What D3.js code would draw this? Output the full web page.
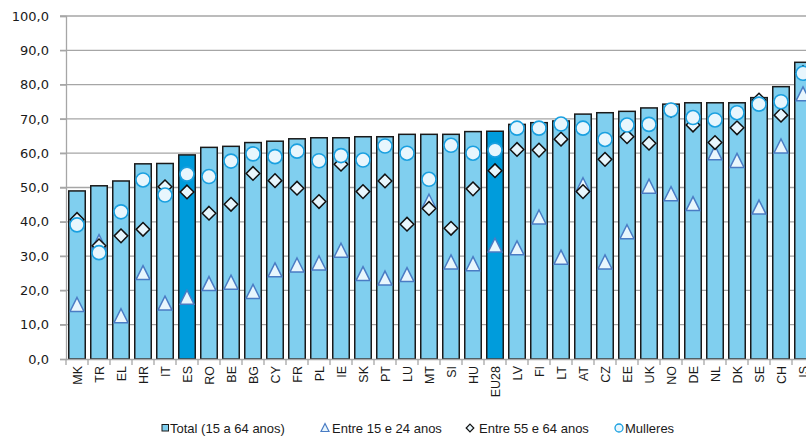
<!DOCTYPE html>
<html>
<head>
<meta charset="utf-8">
<script src="https://cdn.jsdelivr.net/npm/d3@7"></script>
<style>
  body { margin: 0; background: #fff; }
  svg { display: block; }
</style>
</head>
<body>
<div id="root"></div>
<script>
const width = 806;
const height = 437;

// Data set

const categories = ['MK', 'TR', 'EL', 'HR', 'IT', 'ES', 'RO', 'BE', 'BG', 'CY', 'FR', 'PL', 'IE', 'SK', 'PT', 'LU', 'MT',
  'SI', 'HU', 'EU28', 'LV', 'FI', 'LT', 'AT', 'CZ', 'EE', 'UK', 'NO', 'DE', 'NL', 'DK', 'SE', 'CH', 'IS'];

const total = [49.0, 50.5, 51.9, 56.9, 57.0, 59.5, 61.7, 62.0, 63.1, 63.5, 64.2, 64.5, 64.5, 64.8, 64.8, 65.5, 65.5,
  65.5, 66.3, 66.4, 68.4, 68.9, 69.4, 71.4, 71.8, 72.2, 73.2, 74.3, 74.7, 74.7, 74.7, 76.2, 79.4, 86.5];

const age15to24 = [15.9, 34.2, 12.6, 25.2, 16.3, 18.0, 22.0, 22.4, 19.7, 26.0, 27.4, 28.0, 31.7, 24.9, 23.6, 24.6, 46.0,
  28.3, 27.8, 33.2, 32.4, 41.4, 29.7, 50.8, 28.3, 37.1, 50.4, 48.2, 45.3, 60.1, 57.9, 44.3, 62.1, 77.3];

const age55to64 = [40.7, 33.0, 35.9, 37.8, 50.2, 48.7, 42.5, 45.1, 54.1, 52.0, 49.8, 45.9, 56.8, 48.8, 51.9, 39.3, 43.9,
  38.1, 49.6, 54.9, 61.1, 60.9, 64.1, 48.8, 58.2, 64.8, 62.9, 72.5, 68.2, 63.1, 67.4, 75.5, 71.1, 83.5];

const women = [39.1, 31.0, 42.9, 52.2, 47.8, 53.9, 53.2, 57.7, 59.8, 59.0, 60.6, 57.8, 59.3, 58.0, 62.1, 60.0, 52.4,
  62.3, 60.0, 60.9, 67.3, 67.3, 68.5, 67.3, 64.0, 68.2, 68.4, 72.6, 70.4, 69.7, 71.8, 74.3, 75.0, 83.3];

const highlighted = ['ES', 'EU28'];
const yTicks = [0, 10, 20, 30, 40, 50, 60, 70, 80, 90, 100];

const legendLabels = ['Total (15 a 64 anos)', 'Entre 15 e 24 anos', 'Entre 55 e 64 anos', 'Mulleres'];

// Colors

const barLight = '#80cfef';
const barDark = '#009cdc';
const markerFill = '#e8f6fd';
const gridColor = '#a6a6a6';

// Main canvas

const svg = d3
  .select('#root')
  .append('svg')
  .attr('width', width)
  .attr('height', height);

const x = d3.scaleBand().domain(categories).range([66, 814]).paddingInner(0.25).paddingOuter(0.125);
const y = d3.scaleLinear().domain([0, 100]).range([359, 16]);

// Grid and y axis

svg
  .append('g')
  .selectAll('line')
  .data(yTicks.slice(1))
  .join('line')
  .attr('x1', 60)
  .attr('x2', width)
  .attr('y1', (d) => y(d))
  .attr('y2', (d) => y(d))
  .attr('stroke', gridColor)
  .attr('stroke-width', 1.3);

const yAxis = svg
  .append('g')
  .attr('transform', 'translate(66,0)')
  .call(d3.axisLeft(y).tickValues(yTicks).tickSize(6).tickPadding(11).tickFormat((d) => d3.format('.1f')(d).replace('.', ',')));

yAxis.selectAll('line, path').attr('stroke', gridColor).attr('stroke-width', 1.3);
yAxis.selectAll('text').attr('font-family', 'DejaVu Sans').attr('font-size', 13).attr('fill', '#1a1a1a');

// Bars

svg
  .append('g')
  .selectAll('rect')
  .data(categories)
  .join('rect')
  .attr('x', (d) => x(d))
  .attr('y', (d, i) => y(total[i]))
  .attr('width', x.bandwidth())
  .attr('height', (d, i) => y(0) - y(total[i]))
  .attr('fill', (d) => (highlighted.includes(d) ? barDark : barLight))
  .attr('stroke', '#1a1a1a')
  .attr('stroke-width', 1.5);

// X axis

const xAxis = svg
  .append('g')
  .attr('transform', `translate(0,${y(0)})`)
  .call(d3.axisBottom(x).tickSize(0).tickFormat(''));

xAxis.select('path').attr('stroke', gridColor).attr('stroke-width', 1.3);

svg
  .append('g')
  .selectAll('line')
  .data(d3.range(categories.length + 1))
  .join('line')
  .attr('x1', (d) => x.range()[0] + d * x.step())
  .attr('x2', (d) => x.range()[0] + d * x.step())
  .attr('y1', y(0))
  .attr('y2', y(0) + 6)
  .attr('stroke', gridColor)
  .attr('stroke-width', 1.3);

svg
  .append('g')
  .selectAll('text')
  .data(categories)
  .join('text')
  .attr('transform', (d) => `translate(${x(d) + x.bandwidth() / 2 + 4.5},366) rotate(-90)`)
  .attr('text-anchor', 'end')
  .attr('font-family', 'Liberation Sans, Arial, sans-serif')
  .attr('font-size', 12.5)
  .attr('fill', '#1a1a1a')
  .text((d) => d);

// Markers

const cx = (d) => x(d) + x.bandwidth() / 2;
const trianglePath = 'M0,-7L7,7L-7,7Z';
const diamondPath = 'M0,-6.8L6.8,0L0,6.8L-6.8,0Z';

svg
  .append('g')
  .selectAll('path')
  .data(categories)
  .join('path')
  .attr('d', trianglePath)
  .attr('transform', (d, i) => `translate(${cx(d)},${y(age15to24[i])})`)
  .attr('fill', markerFill)
  .attr('stroke', '#4a7cc4')
  .attr('stroke-width', 1.5);

svg
  .append('g')
  .selectAll('path')
  .data(categories)
  .join('path')
  .attr('d', diamondPath)
  .attr('transform', (d, i) => `translate(${cx(d)},${y(age55to64[i])})`)
  .attr('fill', markerFill)
  .attr('stroke', '#111')
  .attr('stroke-width', 1.5);

svg
  .append('g')
  .selectAll('circle')
  .data(categories)
  .join('circle')
  .attr('cx', cx)
  .attr('cy', (d, i) => y(women[i]))
  .attr('r', 7)
  .attr('fill', markerFill)
  .attr('stroke', '#1aa0e0')
  .attr('stroke-width', 1.6);

// Legend

const legend = svg.append('g').attr('font-family', 'Liberation Sans, Arial, sans-serif').attr('font-size', 13);
const legendX = [170, 332, 479, 625];

legend
  .append('rect')
  .attr('x', 162)
  .attr('y', 424.5)
  .attr('width', 6.5)
  .attr('height', 6.5)
  .attr('fill', barLight)
  .attr('stroke', '#1a1a1a')
  .attr('stroke-width', 1);

legend
  .append('path')
  .attr('d', 'M0,-4L4,4L-4,4Z')
  .attr('transform', 'translate(325,427.5)')
  .attr('fill', markerFill)
  .attr('stroke', '#4a7cc4')
  .attr('stroke-width', 1.2);

legend
  .append('path')
  .attr('d', 'M0,-3.8L3.8,0L0,3.8L-3.8,0Z')
  .attr('transform', 'translate(470,428)')
  .attr('fill', markerFill)
  .attr('stroke', '#111')
  .attr('stroke-width', 1.2);

legend
  .append('circle')
  .attr('cx', 619)
  .attr('cy', 428)
  .attr('r', 4)
  .attr('fill', markerFill)
  .attr('stroke', '#1aa0e0')
  .attr('stroke-width', 1.3);

legend
  .selectAll('text')
  .data(legendLabels)
  .join('text')
  .attr('x', (d, i) => legendX[i])
  .attr('y', 432.5)
  .attr('fill', '#1a1a1a')
  .text((d) => d);
</script>
</body>
</html>
